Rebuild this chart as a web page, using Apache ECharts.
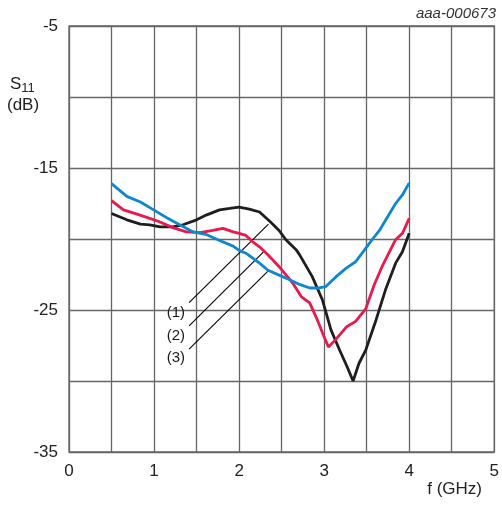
<!DOCTYPE html>
<html>
<head>
<meta charset="utf-8">
<script src="https://cdn.jsdelivr.net/npm/echarts@6/dist/echarts.min.js"></script>
<style>
  html, body { margin: 0; padding: 0; background: #fff; }
  #chart { width: 502px; height: 506px; }
</style>
</head>
<body>
<div id="chart"></div>
<script>
// S11 vs frequency, three curves (GHz, dB)
const curve1 = [
  [0.5, -18.2], [0.68, -18.65], [0.84, -18.95], [0.95, -19.0], [1.07, -19.15], [1.22, -19.15],
  [1.34, -19.0], [1.5, -18.65], [1.62, -18.3], [1.77, -17.95], [1.89, -17.85], [2.0, -17.75],
  [2.12, -17.9], [2.24, -18.1], [2.36, -18.75], [2.47, -19.4], [2.55, -20.05], [2.67, -20.75],
  [2.71, -21.1], [2.86, -22.65], [2.98, -24.3], [3.08, -26.4], [3.18, -27.8], [3.27, -29.0],
  [3.34, -30.0], [3.41, -28.75], [3.49, -27.8], [3.61, -25.7], [3.72, -23.6], [3.84, -21.7],
  [3.92, -20.9], [4.0, -19.6]
]
const curve2 = [
  [0.5, -17.3], [0.64, -17.95], [0.8, -18.25], [0.95, -18.55], [1.07, -18.8], [1.22, -19.2],
  [1.38, -19.5], [1.54, -19.55], [1.69, -19.4], [1.81, -19.25], [1.93, -19.5], [2.0, -19.6],
  [2.08, -19.75], [2.16, -20.2], [2.24, -20.55], [2.32, -21.0], [2.4, -21.5], [2.47, -21.95],
  [2.63, -23.1], [2.73, -24.05], [2.83, -24.5], [2.92, -25.7], [2.98, -26.6], [3.05, -27.6],
  [3.14, -27.05], [3.26, -26.2], [3.37, -25.8], [3.49, -24.9], [3.59, -23.2], [3.68, -21.95],
  [3.84, -20.05], [3.92, -19.6], [4.0, -18.55]
]
const curve3 = [
  [0.5, -16.1], [0.68, -17.0], [0.84, -17.4], [1.01, -18.0], [1.15, -18.5], [1.3, -19.0],
  [1.46, -19.5], [1.62, -19.7], [1.77, -20.1], [1.93, -20.5], [2.0, -20.8], [2.08, -21.0],
  [2.16, -21.35], [2.24, -21.7], [2.34, -22.2], [2.51, -22.65], [2.59, -22.85], [2.71, -23.2],
  [2.83, -23.45], [2.94, -23.45], [3.02, -23.35], [3.14, -22.65], [3.26, -22.05], [3.37, -21.6],
  [3.47, -20.8], [3.57, -20.0], [3.65, -19.4], [3.72, -18.7], [3.84, -17.5], [3.92, -16.9],
  [4.0, -16.05]
]
const curveColors = ['#1e1e1e', '#e8194f', '#0d88cc']

// leader lines from the (1)(2)(3) labels to each curve
const leaderLabels = ['(1)', '(2)', '(3)']
const leaderStarts = [[1.412, -24.48], [1.412, -26.12], [1.412, -27.76]]
const leaderEnds = [[2.345, -18.95], [2.29, -20.89], [2.345, -22.23]]
const labelPos = [[1.256, -25.18], [1.256, -26.82], [1.256, -28.37]]

const font = 'Arial, "Liberation Sans", sans-serif'
const chart = echarts.init(document.getElementById('chart'))

const series = [curve1, curve2, curve3].map((d, i) => ({
  type: 'line',
  data: d,
  showSymbol: false,
  symbol: 'none',
  lineStyle: { color: curveColors[i], width: 2.8 },
  z: 3 + i
}))

leaderLabels.forEach((txt, i) => {
  series.push({
    type: 'line',
    data: [leaderStarts[i], leaderEnds[i]],
    symbol: 'none',
    lineStyle: { color: '#000', width: 1.1, opacity: 1 },
    silent: true,
    z: 2
  })
})

// the label texts themselves
series.push({
  type: 'scatter',
  data: labelPos.map((p, i) => ({ value: p, name: leaderLabels[i] })),
  symbolSize: 0,
  silent: true,
  itemStyle: { color: '#fff', opacity: 1 },
  label: {
    show: true, position: 'inside', formatter: '{b}',
    color: '#1a1a1a', fontSize: 15, fontFamily: font,
    textBorderWidth: 0, opacity: 1
  },
  z: 6
})

chart.setOption({
  animation: false,
  backgroundColor: '#fff',
  grid: {
    left: 69, right: 6, top: 26, bottom: 54,
    show: true, borderColor: '#666', borderWidth: 1.3
  },
  xAxis: {
    type: 'value', min: 0, max: 5, interval: 0.5,
    axisLine: { show: false },
    axisTick: { show: false },
    splitLine: { show: true, lineStyle: { color: '#666', width: 1.3 } },
    axisLabel: {
      margin: 11, color: '#222', fontSize: 17, fontFamily: font,
      formatter: v => (Number.isInteger(v) ? String(v) : '')
    }
  },
  yAxis: {
    type: 'value', min: -35, max: -5, interval: 5,
    axisLine: { show: false },
    axisTick: { show: false },
    splitLine: { show: true, lineStyle: { color: '#666', width: 1.3 } },
    axisLabel: {
      margin: 11, color: '#222', fontSize: 17, fontFamily: font,
      formatter: v => ((v + 5) % 10 === 0 ? String(v) : '')
    }
  },
  graphic: [
    {
      type: 'text', left: 10, top: 76,
      style: {
        text: 'S{sub|11}', fill: '#222', font: '17px ' + font,
        rich: { sub: { fontSize: 13, fontFamily: font, fill: '#222', padding: [8, 0, 0, 0] } }
      }
    },
    {
      type: 'text', left: 7, top: 97,
      style: { text: '(dB)', fill: '#222', font: '17px ' + font }
    },
    {
      type: 'text', right: 6, top: 6,
      style: { text: 'aaa-000673', fill: '#333', font: 'italic 15px ' + font }
    },
    {
      type: 'text', right: 20, top: 481,
      style: { text: 'f (GHz)', fill: '#222', font: '17px ' + font }
    }
  ],
  series
})
</script>
</body>
</html>
